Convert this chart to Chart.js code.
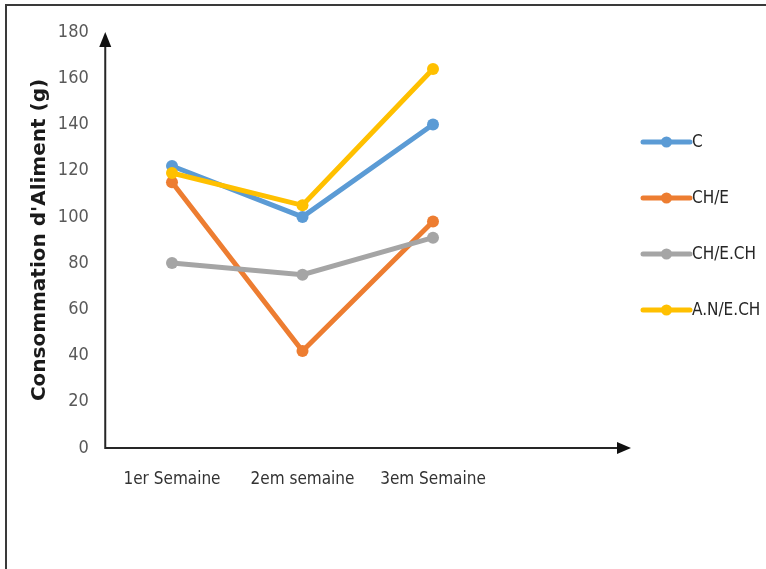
<!DOCTYPE html>
<html>
<head>
<meta charset="utf-8">
<script src="https://cdn.jsdelivr.net/npm/chart.js@4/dist/chart.umd.min.js"></script>
<style>
  html, body { margin: 0; padding: 0; background: #fff; }
  #wrap { position: relative; width: 766px; height: 569px; overflow: hidden; }
  #frame { position: absolute; left: 5px; top: 4px; right: -4px; bottom: -4px;
           border-top: 2px solid #3a3a3a; border-left: 2px solid #3a3a3a; pointer-events: none; }
  canvas { position: absolute; left: 0; top: 0; }
</style>
</head>
<body>
<div id="wrap">
  <canvas id="chart" width="766" height="569"></canvas>
  <div id="frame"></div>
</div>
<script>
// Weekly feed consumption per group
const weeks = ['1er Semaine', '2em semaine', '3em Semaine'];
const seriesNames = ['C', 'CH/E', 'CH/E.CH', 'A.N/E.CH'];
const valuesC = [122, 100, 140];
const valuesCHE = [115, 42, 98];
const valuesCHECH = [80, 75, 91];
const valuesANECH = [119, 105, 164];
const yTicks = [0, 20, 40, 60, 80, 100, 120, 140, 160, 180];

const seriesValues = [valuesC, valuesCHE, valuesCHECH, valuesANECH];
const seriesColors = ['#5B9BD5', '#ED7D31', '#A5A5A5', '#FFC000'];

const condensed = "'Liberation Sans Narrow', 'DejaVu Sans Condensed', 'Liberation Sans', sans-serif";

// Axis lines with arrow heads, as in the original figure
const arrowAxes = {
  id: 'arrowAxes',
  afterDraw(chart) {
    const ctx = chart.ctx;
    const area = chart.chartArea;
    const y = chart.scales.y;
    const x0 = area.left - 1.5;
    const y0 = y.getPixelForValue(0);
    const yTop = y.getPixelForValue(180);
    const xEnd = 631;
    ctx.save();
    ctx.strokeStyle = '#262626';
    ctx.fillStyle = '#111';
    ctx.lineWidth = 2;
    ctx.beginPath();
    ctx.moveTo(x0, yTop + 12);
    ctx.lineTo(x0, y0);
    ctx.lineTo(xEnd - 12, y0);
    ctx.stroke();
    // vertical arrow head
    ctx.beginPath();
    ctx.moveTo(x0, yTop);
    ctx.lineTo(x0 - 6, yTop + 15);
    ctx.lineTo(x0 + 6, yTop + 15);
    ctx.closePath();
    ctx.fill();
    // horizontal arrow head
    ctx.beginPath();
    ctx.moveTo(xEnd, y0);
    ctx.lineTo(xEnd - 14, y0 - 6);
    ctx.lineTo(xEnd - 14, y0 + 6);
    ctx.closePath();
    ctx.fill();
    ctx.restore();
  }
};

// Legend on the right: line sample with a marker, then the series name
const sideLegend = {
  id: 'sideLegend',
  afterDraw(chart) {
    const ctx = chart.ctx;
    const x1 = 643, x2 = 690, top = 142, step = 56;
    ctx.save();
    chart.data.datasets.forEach((ds, i) => {
      const yy = top + i * step;
      ctx.strokeStyle = ds.borderColor;
      ctx.lineWidth = 5;
      ctx.lineCap = 'round';
      ctx.beginPath();
      ctx.moveTo(x1, yy);
      ctx.lineTo(x2, yy);
      ctx.stroke();
      ctx.fillStyle = ds.borderColor;
      ctx.beginPath();
      ctx.arc((x1 + x2) / 2, yy, 5.5, 0, Math.PI * 2);
      ctx.fill();
      ctx.fillStyle = '#262626';
      ctx.font = '17px ' + condensed;
      ctx.textBaseline = 'middle';
      ctx.textAlign = 'left';
      ctx.fillText(ds.label, x2 + 2, yy + 1);
    });
    ctx.restore();
  }
};

const datasets = seriesNames.map((name, i) => ({
  label: name,
  data: seriesValues[i],
  borderColor: seriesColors[i],
  backgroundColor: seriesColors[i],
  borderWidth: 5,
  pointRadius: 6,
  pointHoverRadius: 6,
  pointBorderWidth: 0,
  tension: 0,
  order: seriesNames.length - i
}));

new Chart(document.getElementById('chart'), {
  type: 'line',
  data: { labels: weeks, datasets },
  options: {
    responsive: false,
    animation: false,
    events: [],
    layout: { padding: { left: 28, top: 32, right: 267.75, bottom: 0 } },
    plugins: { legend: { display: false }, tooltip: { enabled: false } },
    scales: {
      x: {
        offset: true,
        border: { display: false },
        grid: { display: false, drawTicks: false },
        ticks: { color: '#333', padding: 21, font: { family: condensed, size: 17 } },
        afterFit(scale) { scale.height = 121; }
      },
      y: {
        min: 0,
        max: 180,
        afterBuildTicks(scale) { scale.ticks = yTicks.map(v => ({ value: v })); },
        border: { display: false },
        grid: { display: false, drawTicks: false },
        ticks: { color: '#595959', padding: 18, font: { family: condensed, size: 18 } },
        title: {
          display: true,
          text: "Consommation d'Aliment (g)",
          color: '#1a1a1a',
          padding: 0,
          font: { family: "'DejaVu Sans', sans-serif", size: 20, weight: 'bold' }
        },
        afterFit(scale) { scale.width = 78.75; }
      }
    }
  },
  plugins: [arrowAxes, sideLegend]
});
</script>
</body>
</html>
